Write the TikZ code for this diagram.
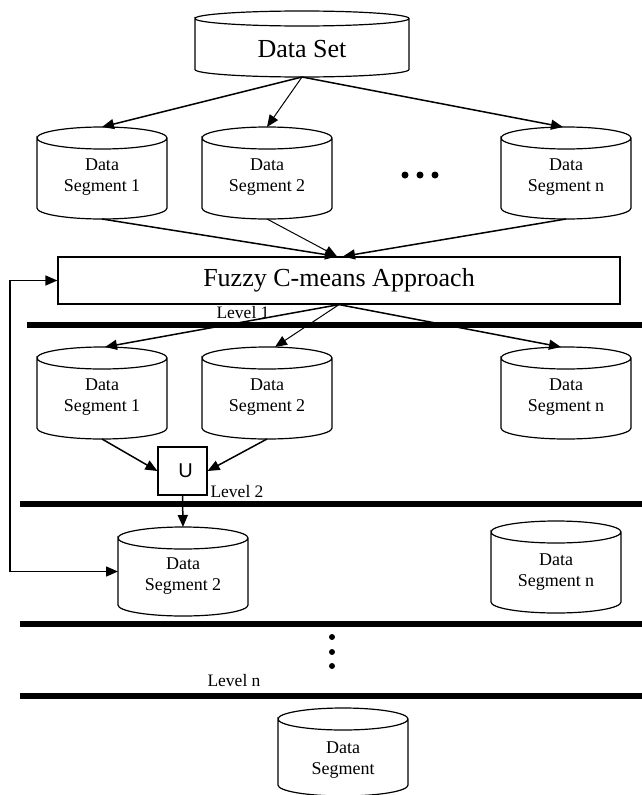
\documentclass[tikz,border=0pt]{standalone}
\usepackage{fontspec}
\setmainfont{Liberation Serif}
\newfontfamily\usans{Liberation Sans}
\usetikzlibrary{arrows.meta,calc}

\tikzset{
  cylline/.style={line width=1.2pt},
  tip/.tip={Triangle[length=12pt,width=10pt]},
  conn/.style={line width=1.5pt, -tip},
  thinconn/.style={line width=1pt, -tip},
  levelline/.style={line width=6pt},
  seglabel/.style={font=\fontsize{18}{21}\selectfont, align=center, inner sep=0},
  levellabel/.style={font=\fontsize{17.5}{20}\selectfont, inner sep=0},
  boxnode/.style={draw, line width=1.2pt, inner sep=0},
}

% name, cx, ytop, ybottom, width, ry, text offset from top, text
\newcommand\cylnode[8]{%
  \node[inner sep=0, outer sep=0, minimum width=#5pt, minimum height={(#4-#3)*1pt}] (#1) at (#2,{-(#3+#4)/2}) {};
  \draw[cylline] ([yshift=-#6pt]#1.north west)
      arc[start angle=180, end angle=-180, x radius={#5/2*1pt}, y radius=#6pt]
      -- ([yshift=#6pt]#1.south west)
      arc[start angle=180, end angle=360, x radius={#5/2*1pt}, y radius=#6pt]
      -- ([yshift=-#6pt]#1.north east);
  \node[seglabel] (#1-t) at (#2,{-(#3+#7)}) {#8};
}

\begin{document}
\begin{tikzpicture}[x=1pt,y=1pt]
\useasboundingbox (0,0) rectangle (642,-795);

% top data set
\cylnode{ds}{302}{11}{77}{214}{7.5}{38}{\fontsize{26}{30}\selectfont Data Set}

% row 1
\cylnode{r1a}{102}{127}{219}{130}{11}{50}{Data\\Segment 1}
\cylnode{r1b}{267}{127}{219}{130}{11}{50}{Data\\Segment 2}
\cylnode{r1c}{566}{127}{219}{130}{11}{50}{Data\\Segment n}
\fill (405,-175) circle (3.5pt) (420,-175) circle (3.5pt) (435,-175) circle (3.5pt);

% fuzzy box
\node[boxnode, minimum width=562pt, minimum height=47pt, font=\fontsize{26}{30}\selectfont] (fz) at (339,-280.5) {Fuzzy C-means Approach};

% row 2
\cylnode{r2a}{102}{347}{439}{130}{11}{50}{Data\\Segment 1}
\cylnode{r2b}{267}{347}{439}{130}{11}{50}{Data\\Segment 2}
\cylnode{r2c}{566}{347}{439}{130}{11}{50}{Data\\Segment n}

% union box
\node[boxnode, minimum width=49pt, minimum height=48pt, font=\usans\fontsize{20}{24}\selectfont] (u) at (182.5,-471) {\hspace{6pt}U};

% row 3
\cylnode{r3a}{183}{527}{616}{130}{11}{49}{Data\\Segment 2}
\cylnode{r3c}{556}{521}{613}{130}{11}{51}{Data\\Segment n}

% final
\cylnode{fin}{343}{708}{796}{130}{11}{52}{Data\\Segment}

% level lines
\draw[levelline] (27,-325) -- (642,-325);
\draw[levelline] (20,-504) -- (642,-504);
\draw[levelline] (20,-624) -- (642,-624);
\draw[levelline] (20,-696) -- (642,-696);

% level labels
\node[levellabel] (l1) at (243,-313) {Level 1};
\node[levellabel] (l2) at (237,-492) {Level 2};
\node[levellabel] (ln) at (234,-681) {Level n};

% vertical dots
\fill (332,-637) circle (3pt) (332,-652) circle (3pt) (332,-666) circle (3pt);

% connectors
\draw[conn] (ds.south) -- (r1a.north);
\draw[thinconn] (ds.south) -- (r1b.north);
\draw[conn] (ds.south) -- ([xshift=-3pt]r1c.north);

\draw[conn] (r1a.south) -- ([xshift=-2pt]fz.north);
\draw[thinconn] (r1b.south) -- ([xshift=-2pt]fz.north);
\draw[conn] (r1c.south) -- ([xshift=4pt]fz.north);

\draw[conn] (fz.south) -- ([xshift=3pt]r2a.north);
\draw[thinconn] (fz.south) -- ([xshift=8pt]r2b.north);
\draw[conn] (fz.south) -- ([xshift=-5pt]r2c.north);

\draw[conn] (r2a.south) -- (u.west);
\draw[conn] (r2b.south) -- (u.east);
\draw[conn] (u.south) -- (r3a.north);

\coordinate (fbk) at (10,-281);
\draw[line width=1.5pt, tip-tip] (fz.west) -- (fz.west -| fbk) |- (r3a.west);

\end{tikzpicture}
\end{document}
